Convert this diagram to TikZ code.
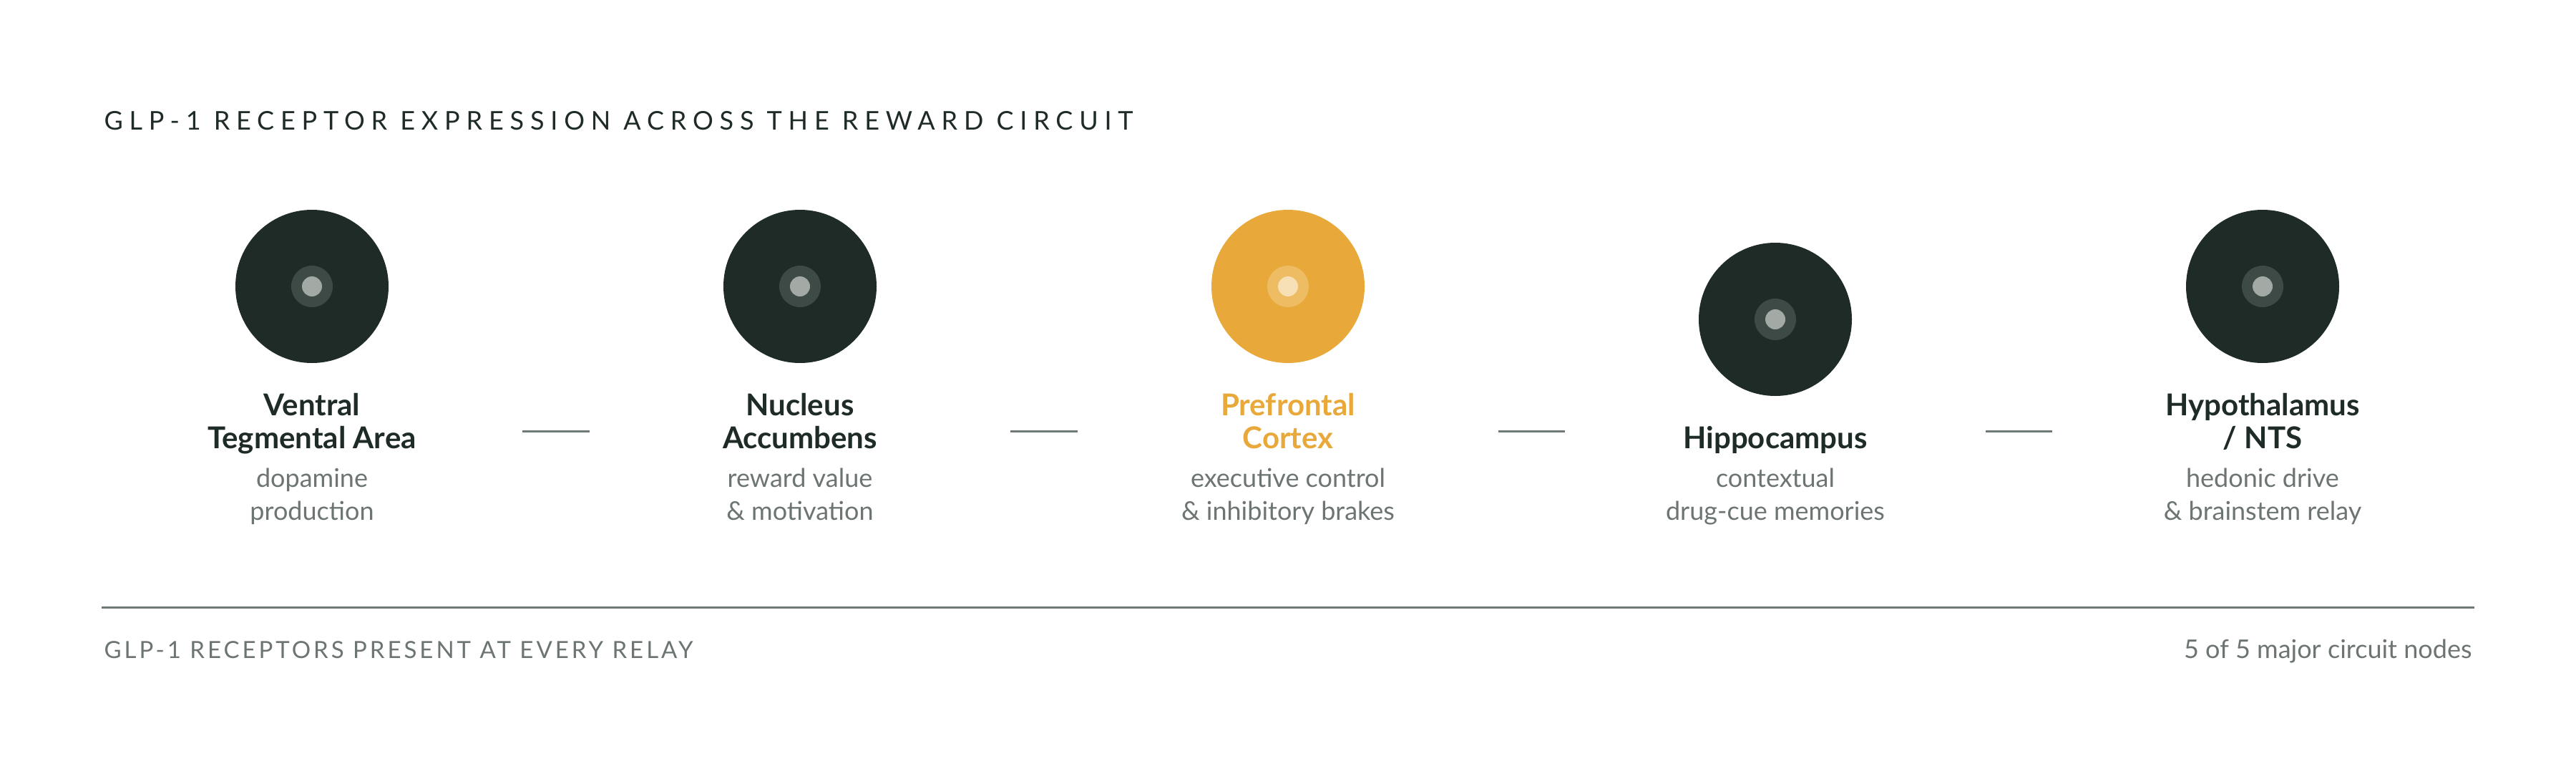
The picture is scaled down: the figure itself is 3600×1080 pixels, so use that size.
\documentclass[tikz,border=0pt]{standalone}
\usepackage{fontspec}
\setmainfont{Lato}
\newfontfamily\trackfont[LetterSpace=24.5]{Lato}
\newfontfamily\trackfontsm[LetterSpace=12]{Lato}
\usetikzlibrary{positioning}

\definecolor{ink}{HTML}{1E2B27}
\definecolor{inkring}{HTML}{3E4A45}
\definecolor{inkdot}{HTML}{A3A9A5}
\definecolor{amber}{HTML}{E8A93A}
\definecolor{amberring}{HTML}{EEBC63}
\definecolor{amberdot}{HTML}{F7E0B5}
\definecolor{muted}{HTML}{6D7571}
\definecolor{rulegray}{HTML}{6F7A76}

\tikzset{
  region/.style={circle, fill=ink, minimum size=214pt, inner sep=0pt},
  ring/.style={circle, fill=inkring, minimum size=58pt, inner sep=0pt},
  core/.style={circle, fill=inkdot, minimum size=28pt, inner sep=0pt},
  regionname/.style={anchor=base, align=center, text=ink,
    font=\fontsize{42}{46}\selectfont\bfseries},
  regionnote/.style={anchor=base, align=center, text=muted,
    font=\fontsize{36}{46}\selectfont},
  link/.style={draw=rulegray, line width=3pt, shorten <=294pt, shorten >=294pt},
}

\begin{document}
\begin{tikzpicture}[x=1pt, y=-1pt]
    \useasboundingbox[fill=white] (0,0) rectangle (3600,1080);

    % heading
    \node[anchor=base west, text=ink, font=\fontsize{36}{40}\selectfont\trackfont]
      (heading) at (142,181) {GLP-1 RECEPTOR EXPRESSION ACROSS THE REWARD CIRCUIT};

    % circuit nodes
    \node[region] (vta) at (436,400) {};
    \node[region] (nac) at (1118,400) {};
    \node[region, fill=amber] (pfc) at (1800,400) {};
    \node[region] (hip) at (2481,446) {};
    \node[region] (hyp) at (3162,400) {};
    \foreach \r in {vta,nac,hip,hyp} {
      \node[ring] at (\r) {};
      \node[core] at (\r) {};
    }
    \node[ring, fill=amberring] at (pfc) {};
    \node[core, fill=amberdot] at (pfc) {};

    % names (base = last line)
    \node[regionname] (vta-name) at (436,626) {Ventral\\Tegmental Area};
    \node[regionname] (nac-name) at (1118,626) {Nucleus\\Accumbens};
    \node[regionname, text=amber] (pfc-name) at (1800,626) {Prefrontal\\Cortex};
    \node[regionname] (hip-name) at (2481,626) {Hippocampus};
    \node[regionname] (hyp-name) at (3162,626) {Hypothalamus\\/ NTS};

    % roles
    \node[regionnote] (vta-note) at (436,726) {dopamine\\production};
    \node[regionnote] (nac-note) at (1118,726) {reward value\\\& motivation};
    \node[regionnote] (pfc-note) at (1800,726) {executive control\\\& inhibitory brakes};
    \node[regionnote] (hip-note) at (2481,726) {contextual\\drug-cue memories};
    \node[regionnote] (hyp-note) at (3162,726) {hedonic drive\\\& brainstem relay};

    % relays
    \draw[link] (vta |- 0,602) -- (nac |- 0,602);
    \draw[link] (nac |- 0,602) -- (pfc |- 0,602);
    \draw[link] (pfc |- 0,602) -- (hip |- 0,602);
    \draw[link] (hip |- 0,602) -- (hyp |- 0,602);

    % footer
    \coordinate (rule-l) at (142,848);
    \coordinate (rule-r) at (3458,848);
    \draw[rulegray, line width=3pt] (rule-l) -- (rule-r);
    \node[anchor=base west, text=muted, font=\fontsize{33}{36}\selectfont\trackfontsm]
      (footer-l) at (142,919) {GLP-1 RECEPTORS PRESENT AT EVERY RELAY};
    \node[anchor=base east, text=muted, font=\fontsize{36}{38}\selectfont]
      (footer-r) at (3458,919) {5 of 5 major circuit nodes};
\end{tikzpicture}
\end{document}
